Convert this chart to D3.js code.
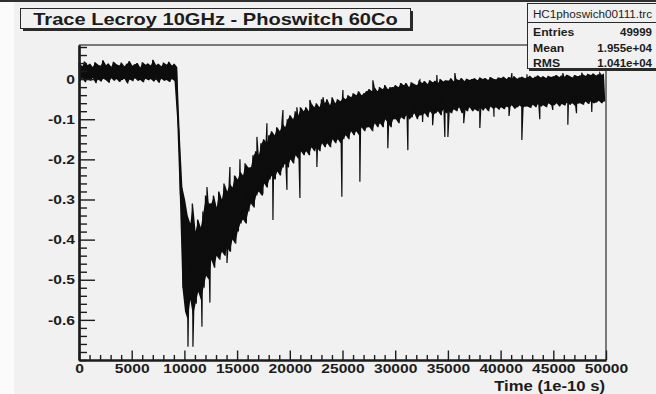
<!DOCTYPE html>
<html><head><meta charset="utf-8">
<script src="https://cdn.jsdelivr.net/npm/d3@7"></script>
<style>html,body{margin:0;padding:0;background:#f1f1f1;} svg{display:block;}</style>
</head><body>
<svg id="c" width="656" height="394"></svg>
<script>
// ---------------- data ----------------
const titleText = "Trace Lecroy 10GHz - Phoswitch 60Co";
const statsName = "HC1phoswich00111.trc";
const statsLabels = ["Entries", "Mean", "RMS"];
const statsValues = ["49999", "1.955e+04", "1.041e+04"];
const xTitle = "Time (1e-10 s)";
const xMajorTicks = [0, 5000, 10000, 15000, 20000, 25000, 30000, 35000, 40000, 45000, 50000];
const yMajorTicks = [-0.6, -0.5, -0.4, -0.3, -0.2, -0.1, 0];
const xDomain = [0, 50000];
const yDomain = [-0.7, 0.085];

// trace envelope per 250-sample bin (upper / lower excursion of the noisy trace)
const binWidth = 250;
const traceHigh = [
  0.040,0.032,0.044,0.035,0.038,0.030,0.042,0.036,0.033,0.047,
  0.035,0.039,0.031,0.043,0.037,0.034,0.041,0.032,0.038,0.045,
  0.033,0.037,0.040,0.029,0.042,0.036,0.039,0.034,0.048,0.035,
  0.038,0.032,0.041,0.036,0.043,0.034,0.038,
  0.030,-0.14,-0.27,-0.30,-0.34,-0.36,-0.31,-0.38,-0.35,-0.37,-0.33,-0.29,-0.31,
  -0.31,-0.29,-0.32,-0.28,-0.30,-0.26,-0.28,-0.26,-0.27,-0.24,
  -0.25,-0.23,-0.24,-0.21,-0.22,-0.22,-0.19,-0.18,-0.19,-0.16,
  -0.15,-0.16,-0.14,-0.13,-0.14,-0.12,-0.13,-0.11,-0.12,-0.10,
  -0.09,-0.10,-0.08,-0.09,-0.07,-0.08,-0.07,-0.08,-0.06,-0.07,
  -0.06,-0.07,-0.05,-0.06,-0.05,-0.065,-0.045,-0.06,-0.05,-0.055,
  -0.045,-0.05,-0.04,-0.045,-0.035,-0.04,-0.03,-0.04,-0.035,-0.03,
  -0.025,-0.03,-0.02,-0.03,-0.02,-0.025,-0.015,-0.025,-0.02,-0.02,
  -0.015,-0.02,-0.01,-0.015,-0.01,-0.02,-0.008,-0.012,-0.015,-0.005,
  -0.01,-0.005,-0.012,-0.003,-0.008,-0.004,-0.01,0.0,-0.006,-0.003,
  -0.004,0.002,-0.006,0.0,-0.003,0.003,-0.005,0.001,-0.002,0.0,
  0.002,-0.003,0.004,0.0,0.003,-0.002,0.005,0.001,-0.001,0.004,
  0.003,0.006,0.0,0.005,0.002,0.007,0.001,0.004,0.006,0.002,
  0.005,0.008,0.002,0.006,0.009,0.004,0.007,0.003,0.008,0.005,
  0.007,0.010,0.005,0.009,0.006,0.011,0.008,0.004,0.010,0.007,
  0.009,0.012,0.008,0.013,0.010,0.014,0.009,0.012,0.011,0.013
];
const traceLow = [
  -0.005,0.002,-0.008,0.000,-0.004,0.003,-0.010,-0.001,-0.006,0.001,
  -0.003,-0.009,0.002,-0.004,0.000,-0.007,-0.002,0.001,-0.011,-0.001,
  -0.005,0.002,-0.004,-0.002,-0.008,0.001,-0.003,0.000,-0.006,-0.001,
  -0.009,0.001,-0.004,-0.002,-0.007,0.000,-0.005,
  -0.10,-0.29,-0.52,-0.58,-0.60,-0.55,-0.59,-0.56,-0.53,-0.55,-0.52,-0.49,-0.50,
  -0.45,-0.47,-0.44,-0.45,-0.43,-0.44,-0.42,-0.43,-0.40,-0.41,
  -0.38,-0.36,-0.35,-0.36,-0.33,-0.31,-0.32,-0.29,-0.28,-0.29,
  -0.26,-0.27,-0.25,-0.24,-0.25,-0.23,-0.24,-0.22,-0.21,-0.22,
  -0.20,-0.21,-0.19,-0.20,-0.18,-0.19,-0.18,-0.19,-0.17,-0.18,
  -0.17,-0.18,-0.16,-0.17,-0.16,-0.17,-0.15,-0.16,-0.15,-0.16,
  -0.15,-0.14,-0.15,-0.13,-0.14,-0.13,-0.14,-0.12,-0.13,-0.12,
  -0.12,-0.13,-0.11,-0.12,-0.11,-0.12,-0.10,-0.11,-0.12,-0.10,
  -0.10,-0.11,-0.095,-0.10,-0.09,-0.10,-0.095,-0.085,-0.10,-0.09,
  -0.09,-0.085,-0.095,-0.08,-0.09,-0.085,-0.08,-0.09,-0.075,-0.085,
  -0.08,-0.085,-0.075,-0.08,-0.07,-0.085,-0.075,-0.08,-0.07,-0.08,
  -0.075,-0.08,-0.07,-0.078,-0.072,-0.08,-0.068,-0.075,-0.07,-0.076,
  -0.07,-0.075,-0.068,-0.072,-0.065,-0.074,-0.07,-0.066,-0.072,-0.068,
  -0.068,-0.072,-0.064,-0.07,-0.062,-0.068,-0.065,-0.07,-0.06,-0.066,
  -0.065,-0.06,-0.068,-0.062,-0.066,-0.058,-0.064,-0.06,-0.067,-0.061,
  -0.06,-0.064,-0.056,-0.062,-0.055,-0.06,-0.058,-0.054,-0.06,-0.056
];
// isolated spikes [time, value]
const traceSpikes = [
  [10340,-0.667],[10810,-0.667],[11665,-0.617],[12140,-0.269],[12420,-0.557],
  [14040,-0.458],[14320,-0.219],[15270,-0.200],[16880,-0.144],[17450,-0.284],
  [17830,-0.110],[18400,-0.351],[19350,-0.077],[19730,-0.276],[20670,-0.070],
  [20960,-0.296],[21900,-0.052],[22570,-0.219],[23150,-0.045],[24940,-0.293],
  [25040,-0.027],[26650,-0.256],[27880,-0.003],[29300,-0.172],[31200,-0.177],
  [32340,-0.002],[32600,-0.107],[33550,-0.115],[33950,0.010],[34710,-0.144],
  [35000,-0.144],[35660,0.015],[36500,-0.110],[38030,-0.122],[39370,-0.094],
  [40800,-0.092],[41070,0.015],[42015,-0.152],[42500,0.012],[43720,-0.100],
  [44950,-0.077],[45900,0.015],[46380,-0.114],[47200,-0.085],[47700,0.016],
  [48650,-0.082],[49410,0.015]
];

// ---------------- drawing ----------------
const svg = d3.select("#c");
const FONT = "'Liberation Sans', Arial, Helvetica, sans-serif";
const INK = "#1c1c1c";
const plot = {left: 79, right: 606, top: 45, bottom: 360};

function stretch(sel, k) {
  sel.each(function () {
    const w = this.getComputedTextLength();
    this.setAttribute("textLength", (w * k).toFixed(1));
    this.setAttribute("lengthAdjust", "spacingAndGlyphs");
  });
}

svg.append("rect").attr("x", 0).attr("y", 0).attr("width", 656).attr("height", 394).attr("fill", "#f1f1f1");
svg.append("rect").attr("x", 0).attr("y", 0).attr("width", 14).attr("height", 394).attr("fill", "#fbfbfb");
svg.append("rect").attr("x", 0).attr("y", 0).attr("width", 656).attr("height", 2).attr("fill", "#303030");

const x = d3.scaleLinear().domain(xDomain).range([plot.left, plot.right]);
const y = d3.scaleLinear().domain(yDomain).range([plot.bottom, plot.top]);

// frame (top/right gray)
svg.append("path")
  .attr("d", `M${plot.left},${plot.top}H${plot.right}V${plot.bottom}`)
  .attr("fill", "none").attr("stroke", "#7a7a7a").attr("stroke-width", 2);

// trace: dense noise band + zigzag + spikes
const bins = traceHigh.map((h, i) => ({t: i * binWidth + binWidth / 4, hi: h, lo: traceLow[i]}));
const area = d3.area().x(d => x(d.t)).y0(d => y(d.lo)).y1(d => y(d.hi));
svg.append("path").datum(bins).attr("d", area).attr("fill", "#0d0d0d");

const pts = [];
traceHigh.forEach((h, i) => {
  pts.push([i * binWidth, h]);
  pts.push([i * binWidth + binWidth / 2, traceLow[i]]);
});
traceSpikes.forEach(s => pts.push(s));
pts.sort((a, b) => a[0] - b[0]);
const line = d3.line().x(d => x(d[0])).y(d => y(d[1]));
svg.append("path").datum(pts).attr("d", line)
  .attr("fill", "none").attr("stroke", "#0d0d0d").attr("stroke-width", 1.2);

// axes
const yFmt = d => d === 0 ? "0" : d3.format(".1f")(d).replace("\u2212", "-");
const xMinor = d3.range(0, 50001, 1000).filter(v => !xMajorTicks.includes(v));
const yMinor = d3.range(-35, 5).map(k => +(k * 0.02).toFixed(2)).filter(v => !yMajorTicks.some(m => Math.abs(m - v) < 1e-6));

const gyMinor = svg.append("g").attr("transform", `translate(${plot.left},0)`)
  .call(d3.axisLeft(y).tickValues(yMinor).tickSize(-8).tickSizeOuter(0).tickFormat(""));
const gy = svg.append("g").attr("transform", `translate(${plot.left},0)`)
  .call(d3.axisLeft(y).tickValues(yMajorTicks).tickSize(-16).tickSizeOuter(0).tickPadding(4).tickFormat(yFmt));
const gxMinor = svg.append("g").attr("transform", `translate(0,${plot.bottom})`)
  .call(d3.axisBottom(x).tickValues(xMinor).tickSize(-5).tickSizeOuter(0).tickFormat(""));
const gx = svg.append("g").attr("transform", `translate(0,${plot.bottom})`)
  .call(d3.axisBottom(x).tickValues(xMajorTicks).tickSize(-9.5).tickSizeOuter(0).tickPadding(4).tickFormat(d3.format("d")));

[gy, gx, gyMinor, gxMinor].forEach(g => {
  g.selectAll(".domain").attr("stroke", INK).attr("stroke-width", 2.2);
  g.selectAll(".tick line").attr("stroke", INK).attr("stroke-width", 1.4);
  g.selectAll("text").attr("font-family", FONT).attr("font-weight", "bold")
    .attr("font-size", 13).attr("fill", INK);
});
stretch(gy.selectAll("text"), 1.2);
stretch(gx.selectAll("text"), 1.2);

// axis title
svg.append("text").attr("x", 605).attr("y", 391).attr("text-anchor", "end")
  .attr("font-family", FONT).attr("font-weight", "bold").attr("font-size", 14).attr("fill", INK)
  .text(xTitle).call(stretch, 1.19);

// title box
svg.append("rect").attr("x", 23).attr("y", 11).attr("width", 390).attr("height", 20).attr("fill", "#2a2a2a");
svg.append("rect").attr("x", 20.5).attr("y", 8.5).attr("width", 390).attr("height", 20)
  .attr("fill", "#f1f1f1").attr("stroke", "#2a2a2a").attr("stroke-width", 1);
svg.append("text").attr("x", 215.5).attr("y", 25).attr("text-anchor", "middle")
  .attr("font-family", FONT).attr("font-weight", "bold").attr("font-size", 17).attr("fill", INK)
  .text(titleText).call(stretch, 1.18);

// stats box
svg.append("rect").attr("x", 529).attr("y", 5).attr("width", 140).attr("height", 66).attr("fill", "#2a2a2a");
svg.append("rect").attr("x", 527.5).attr("y", 3.5).attr("width", 140).attr("height", 65)
  .attr("fill", "#f1f1f1").attr("stroke", "#2a2a2a").attr("stroke-width", 1);
svg.append("line").attr("x1", 527.5).attr("x2", 656).attr("y1", 22.5).attr("y2", 22.5)
  .attr("stroke", "#2a2a2a").attr("stroke-width", 1);
svg.append("text").attr("x", 592.5).attr("y", 18).attr("text-anchor", "middle")
  .attr("font-family", FONT).attr("font-size", 10).attr("fill", INK)
  .text(statsName).call(stretch, 1.17);
const rowY = [36, 52, 67];
statsLabels.forEach((lab, i) => {
  svg.append("text").attr("x", 533).attr("y", rowY[i])
    .attr("font-family", FONT).attr("font-weight", "bold").attr("font-size", 10).attr("fill", INK)
    .text(lab).call(stretch, 1.22);
  svg.append("text").attr("x", 652).attr("y", rowY[i]).attr("text-anchor", "end")
    .attr("font-family", FONT).attr("font-weight", "bold").attr("font-size", 10).attr("fill", INK)
    .text(statsValues[i]).call(stretch, 1.15);
});
</script>
</body></html>
